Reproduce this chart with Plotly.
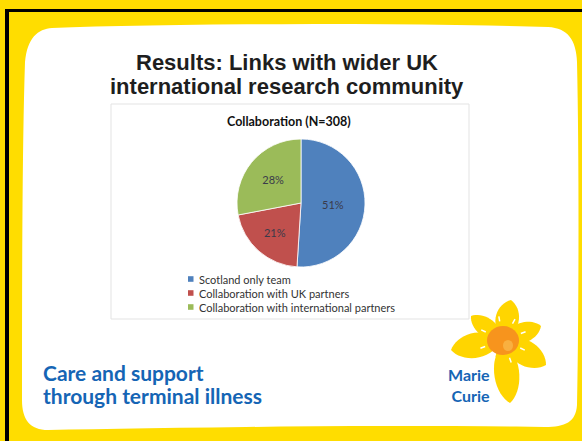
import math
import plotly.graph_objects as go

# ---- data ----
labels = ["Scotland only team", "Collaboration with UK partners",
          "Collaboration with international partners"]
values = [51, 21, 28]
colors = ["#4F81BD", "#C0504D", "#9BBB59"]
slide_title = ["Results: Links with wider UK", "international research community"]
chart_title = "Collaboration (N=308)"
tagline = ["Care and support", "through terminal illness"]
brand = ["Marie", "Curie"]

W, H = 582, 441


def px(x):
    return x / W


def py(y):
    return 1 - y / H


def path(points, close=True):
    s = "M " + " L ".join(f"{px(x):.5f},{py(y):.5f}" for x, y in points)
    return s + (" Z" if close else "")


def bez(p0, p1, p2, p3, n=16):
    pts = []
    for i in range(n + 1):
        t = i / n
        a = (1 - t) ** 3
        b = 3 * (1 - t) ** 2 * t
        c = 3 * (1 - t) * t ** 2
        d = t ** 3
        pts.append((a * p0[0] + b * p1[0] + c * p2[0] + d * p3[0],
                    a * p0[1] + b * p1[1] + c * p2[1] + d * p3[1]))
    return pts


shapes = []
# black frame lines
shapes.append(dict(type="rect", xref="paper", yref="paper", x0=px(5), x1=px(W + 2),
                   y0=py(12), y1=py(9), fillcolor="black", line_width=0, layer="below"))
shapes.append(dict(type="rect", xref="paper", yref="paper", x0=px(5), x1=px(9),
                   y0=py(H + 2), y1=py(9), fillcolor="black", line_width=0, layer="below"))

# white panel with soft wavy corners
pts = []
pts += bez((52, 28), (150, 24), (400, 22), (548, 27))
pts += bez((548, 27), (568, 28), (576, 40), (577, 62))[1:]
pts += bez((577, 62), (579, 150), (579, 300), (577, 405))[1:]
pts += bez((577, 405), (576, 422), (565, 427), (545, 427))[1:]
pts += bez((545, 427), (400, 424), (150, 428), (48, 430))[1:]
pts += bez((48, 430), (30, 430), (22, 420), (22, 400))[1:]
pts += bez((22, 400), (22, 300), (22, 150), (25, 62))[1:]
pts += bez((25, 62), (27, 38), (38, 29), (52, 28))[1:]
shapes.append(dict(type="path", xref="paper", yref="paper", path=path(pts),
                   fillcolor="white", line_width=0, layer="below"))

# chart box
shapes.append(dict(type="rect", xref="paper", yref="paper", x0=px(111), x1=px(469),
                   y0=py(319), y1=py(104), fillcolor="white",
                   line=dict(color="#E3E3E3", width=1), layer="below"))

# legend squares
leg_y = [279, 293, 307]
for i, c in enumerate(colors):
    shapes.append(dict(type="rect", xref="paper", yref="paper", x0=px(188), x1=px(193.5),
                       y0=py(leg_y[i] + 2.8), y1=py(leg_y[i] - 2.8), fillcolor=c,
                       line_width=0, layer="below"))

# daffodil
cx, cy = 503, 340
petals = [((511, 300), 14), ((541, 326), 12), ((546, 365), 15),
          ((510, 403), 15), ((451, 350), 15), ((471, 316), 11)]
for (tx, ty), w in petals:
    dx, dy = tx - cx, ty - cy
    L = math.hypot(dx, dy)
    ux, uy = dx / L, dy / L
    nx, ny = -uy, ux
    p_side1 = bez((cx, cy), (cx + 0.35 * dx + w * 1.3 * nx, cy + 0.35 * dy + w * 1.3 * ny),
                  (cx + 0.85 * dx + w * 0.9 * nx, cy + 0.85 * dy + w * 0.9 * ny), (tx, ty))
    p_side2 = bez((tx, ty), (cx + 0.85 * dx - w * 0.9 * nx, cy + 0.85 * dy - w * 0.9 * ny),
                  (cx + 0.35 * dx - w * 1.3 * nx, cy + 0.35 * dy - w * 1.3 * ny), (cx, cy))
    shapes.append(dict(type="path", xref="paper", yref="paper", path=path(p_side1 + p_side2[1:]),
                       fillcolor="#FFD500", line_width=0, layer="below"))
# white streaks
for ang in [-100, -60, -20, 25, 70, 115, 160, 205]:
    a = math.radians(ang)
    r0, r1 = 19, 24
    shapes.append(dict(type="line", xref="paper", yref="paper",
                       x0=px(cx + r0 * math.cos(a)), y0=py(cy + r0 * math.sin(a)),
                       x1=px(cx + r1 * math.cos(a)), y1=py(cy + r1 * math.sin(a)),
                       line=dict(color="white", width=1.5), layer="below"))
# corona
shapes.append(dict(type="circle", xref="paper", yref="paper", x0=px(487), x1=px(519),
                   y0=py(355), y1=py(326), fillcolor="#F7941D", line_width=0, layer="below"))
shapes.append(dict(type="circle", xref="paper", yref="paper", x0=px(503), x1=px(513),
                   y0=py(351), y1=py(340), fillcolor="#F9B040", line_width=0, layer="below"))

fig = go.Figure()
fig.add_trace(go.Pie(
    labels=labels, values=values, sort=False, direction="clockwise", rotation=0,
    marker=dict(colors=colors, line=dict(color="white", width=0.8)),
    texttemplate="%{percent:.0%}", textposition="inside", insidetextorientation="horizontal",
    textfont=dict(family="Lato, Open Sans, sans-serif", size=11, color="#3A3A4A"),
    domain=dict(x=[px(237), px(365)], y=[py(267), py(139)]),
    showlegend=False, hoverinfo="label+percent",
))

ann = []
for i, t in enumerate(slide_title):
    ann.append(dict(text=f"<b>{t}</b>", x=px(287), y=py(63 + 23 * i), xref="paper", yref="paper",
                    showarrow=False, xanchor="center", yanchor="middle",
                    font=dict(family="Liberation Sans, Arial, sans-serif", size=22, color="#1E1E1E")))
ann.append(dict(text=f"<b>{chart_title}</b>", x=px(289), y=py(122), xref="paper", yref="paper",
                showarrow=False, xanchor="center", yanchor="middle",
                font=dict(family="Lato, Open Sans, sans-serif", size=12.5, color="#111111")))
for i, lab in enumerate(labels):
    ann.append(dict(text=lab, x=px(196.5), y=py(leg_y[i]), xref="paper", yref="paper",
                    showarrow=False, xanchor="left", yanchor="middle",
                    font=dict(family="Lato, Open Sans, sans-serif", size=11, color="#333333")))
for i, t in enumerate(tagline):
    ann.append(dict(text=f"<b>{t}</b>", x=px(41), y=py(372 + 23 * i), xref="paper", yref="paper",
                    showarrow=False, xanchor="left", yanchor="middle",
                    font=dict(family="Lato, Open Sans, sans-serif", size=21, color="#1565B5")))
ann.append(dict(text="<b>" + "<br>".join(brand) + "</b>", x=px(492), y=py(385), xref="paper",
                yref="paper", showarrow=False, xanchor="right", yanchor="middle", align="right",
                font=dict(family="Lato, Open Sans, sans-serif", size=16, color="#1565B5")))

fig.update_layout(
    width=W, height=H, margin=dict(l=0, r=0, t=0, b=0),
    paper_bgcolor="#FFDD00", plot_bgcolor="rgba(0,0,0,0)",
    shapes=shapes, annotations=ann, showlegend=False,
)
fig.write_html("out.html", config={"displayModeBar": False},
               post_script="document.body.style.margin='0px';document.body.style.overflow='hidden';")
